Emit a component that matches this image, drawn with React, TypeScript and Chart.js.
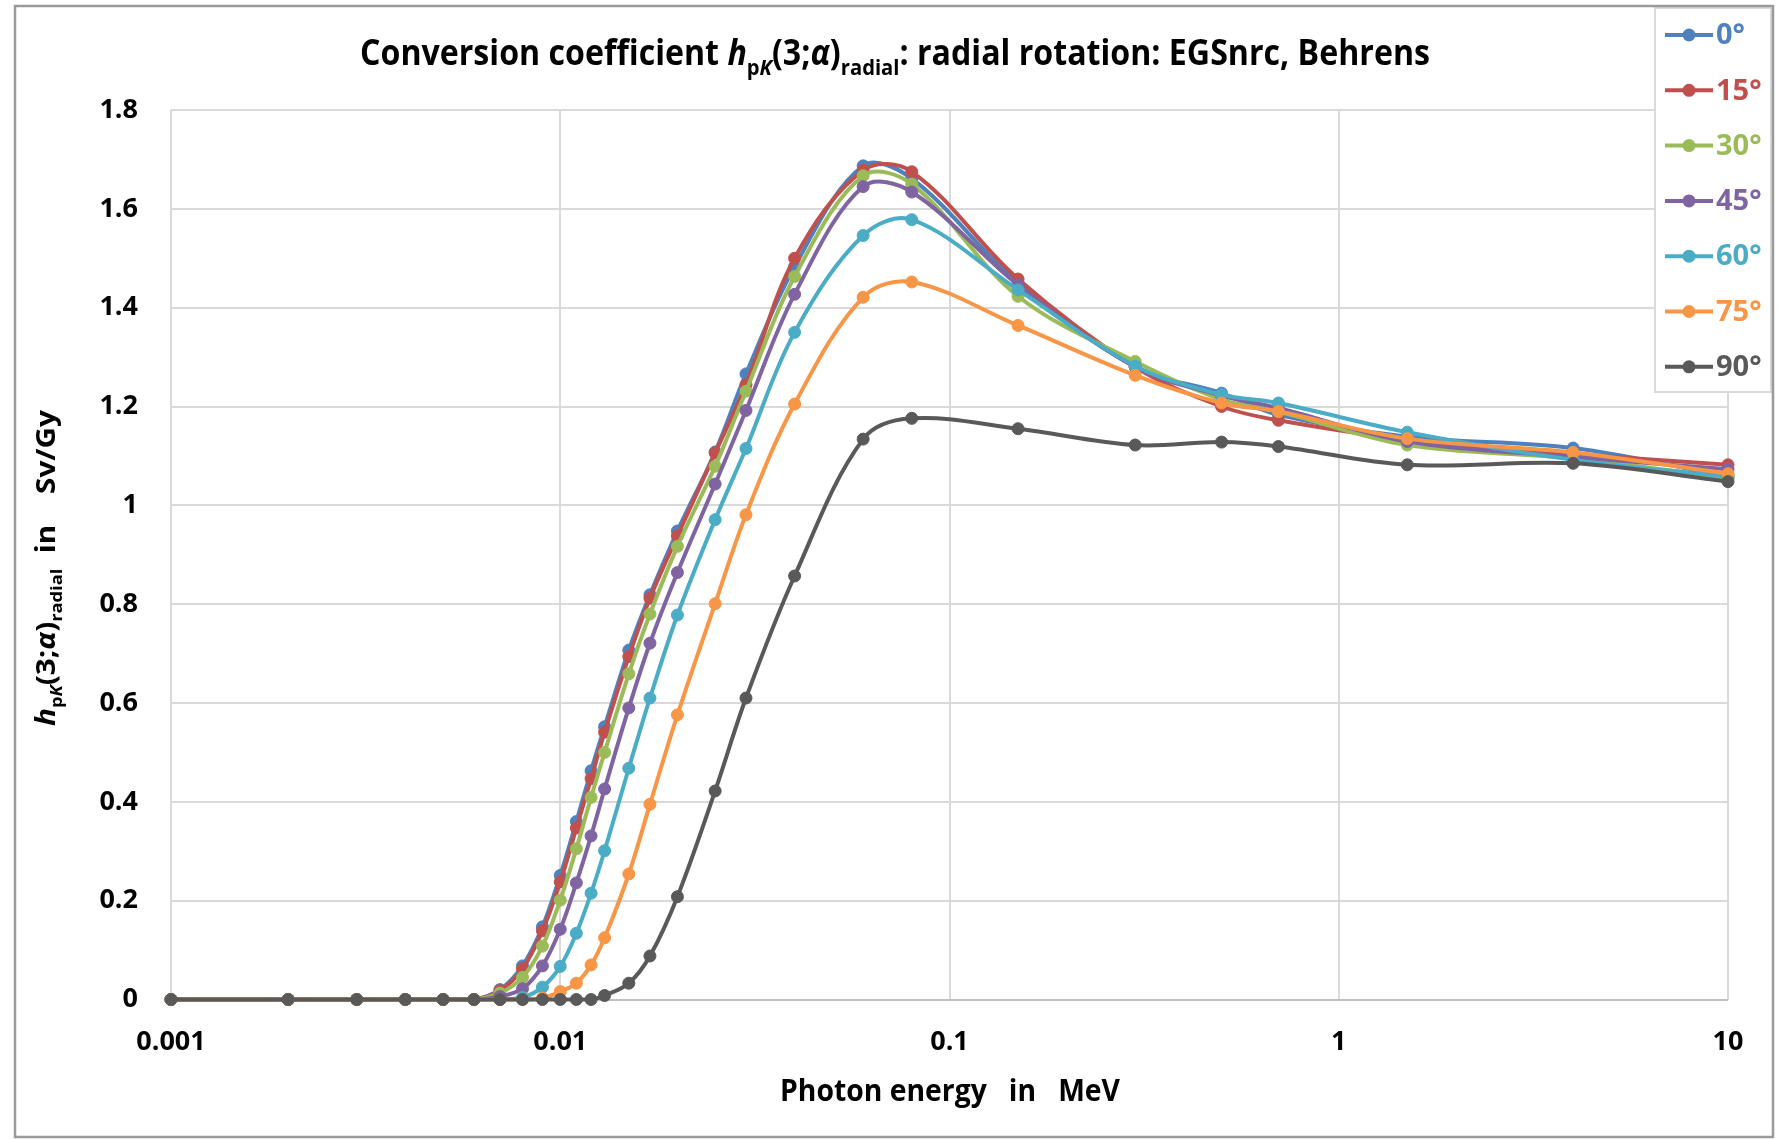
import React, { useEffect, useRef } from "react";
import { Chart, registerables } from "chart.js";

Chart.register(...registerables);

// Photon energies in MeV
const energies = [
  0.001, 0.002, 0.003, 0.004, 0.005, 0.006, 0.007, 0.008, 0.009, 0.01, 0.011, 0.012, 0.013, 0.015,
  0.017, 0.02, 0.025, 0.03, 0.04, 0.06, 0.08, 0.15, 0.3, 0.5, 0.7, 1.5, 4, 10,
];

const seriesLabels = ["0°", "15°", "30°", "45°", "60°", "75°", "90°"];
const seriesColors = ["#4F81BD", "#C0504D", "#9BBB59", "#8064A2", "#4BACC6", "#F79646", "#595959"];

const h0 = [0, 0, 0, 0, 0, 0, 0.02, 0.068, 0.147, 0.251, 0.36, 0.463, 0.552, 0.707, 0.819, 0.948, 1.108, 1.266, 1.483, 1.687, 1.661, 1.45, 1.28, 1.227, 1.183, 1.139, 1.116, 1.058];
const h15 = [0, 0, 0, 0, 0, 0, 0.018, 0.062, 0.139, 0.238, 0.347, 0.447, 0.541, 0.694, 0.812, 0.938, 1.106, 1.244, 1.5, 1.678, 1.675, 1.458, 1.28, 1.2, 1.172, 1.133, 1.104, 1.082];
const h30 = [0, 0, 0, 0, 0, 0, 0.013, 0.045, 0.108, 0.201, 0.305, 0.409, 0.5, 0.659, 0.78, 0.917, 1.079, 1.231, 1.463, 1.667, 1.65, 1.423, 1.291, 1.214, 1.19, 1.122, 1.095, 1.055];
const h45 = [0, 0, 0, 0, 0, 0, 0.006, 0.022, 0.068, 0.142, 0.236, 0.331, 0.426, 0.59, 0.721, 0.864, 1.043, 1.192, 1.427, 1.645, 1.634, 1.446, 1.28, 1.222, 1.197, 1.129, 1.098, 1.073];
const h60 = [0, 0, 0, 0, 0, 0, 0, 0.004, 0.025, 0.067, 0.134, 0.215, 0.301, 0.468, 0.61, 0.778, 0.971, 1.115, 1.35, 1.546, 1.578, 1.436, 1.282, 1.224, 1.207, 1.148, 1.092, 1.058];
const h75 = [0, 0, 0, 0, 0, 0, 0, 0, 0.003, 0.016, 0.033, 0.07, 0.125, 0.254, 0.395, 0.576, 0.801, 0.981, 1.205, 1.421, 1.452, 1.364, 1.263, 1.207, 1.19, 1.135, 1.107, 1.064];
const h90 = [0, 0, 0, 0, 0, 0, 0, 0, 0, 0, 0, 0, 0.008, 0.033, 0.088, 0.208, 0.422, 0.61, 0.857, 1.134, 1.176, 1.155, 1.122, 1.128, 1.119, 1.082, 1.085, 1.048];

const seriesValues = [h0, h15, h30, h45, h60, h75, h90];

const xTickValues = [0.001, 0.01, 0.1, 1, 10];
const xTickLabels = ["0.001", "0.01", "0.1", "1", "10"];

const titleText = "Conversion coefficient ";
const titleTail = ": radial rotation: EGSnrc, Behrens";
const yTitleTail = "  in    Sv/Gy";
const xTitleText = "Photon energy   in   MeV";

type Run = { t: string; it?: boolean; sub?: boolean };

const FONT = "'Open Sans'";

function runFont(r: Run, size: number) {
  return `${r.it ? "italic " : ""}bold ${r.sub ? Math.round(size * 0.62) : size}px ${FONT}`;
}

function drawRuns(ctx: CanvasRenderingContext2D, runs: Run[], size: number, cx: number, baseline: number, targetWidth: number, color: string) {
  ctx.save();
  let total = 0;
  const widths = runs.map((r) => {
    ctx.font = runFont(r, size);
    const w = ctx.measureText(r.t).width;
    total += w;
    return w;
  });
  const sx = targetWidth / total;
  ctx.translate(cx - targetWidth / 2, baseline);
  ctx.scale(sx, 1);
  ctx.fillStyle = color;
  ctx.textBaseline = "alphabetic";
  ctx.textAlign = "left";
  let x = 0;
  runs.forEach((r, i) => {
    ctx.font = runFont(r, size);
    ctx.fillText(r.t, x, r.sub ? size * 0.28 : 0);
    x += widths[i];
  });
  ctx.restore();
}

const decorPlugin = {
  id: "decor",
  beforeDraw(chart: any) {
    const ctx = chart.ctx as CanvasRenderingContext2D;
    ctx.save();
    ctx.fillStyle = "#ffffff";
    ctx.fillRect(0, 0, chart.width, chart.height);
    ctx.restore();
  },
  afterDraw(chart: any) {
    const ctx = chart.ctx as CanvasRenderingContext2D;
    // Title
    const titleRuns: Run[] = [
      { t: titleText },
      { t: "h", it: true },
      { t: "p", sub: true },
      { t: "K", sub: true, it: true },
      { t: "(3;" },
      { t: "α", it: true },
      { t: ")" },
      { t: "radial", sub: true },
      { t: titleTail },
    ];
    drawRuns(ctx, titleRuns, 35, 895, 65, 1070, "#000000");

    // Y axis title
    const yRuns: Run[] = [
      { t: "h", it: true },
      { t: "p", sub: true },
      { t: "K", sub: true, it: true },
      { t: "(3;" },
      { t: "α", it: true },
      { t: ")" },
      { t: "radial", sub: true },
      { t: yTitleTail },
    ];
    ctx.save();
    ctx.translate(55, 568);
    ctx.rotate(-Math.PI / 2);
    drawRuns(ctx, yRuns, 26, 0, 0, 316, "#000000");
    ctx.restore();

    // X axis title
    drawRuns(ctx, [{ t: xTitleText }], 31, 950, 1101, 340, "#000000");

    // Legend
    ctx.save();
    ctx.fillStyle = "#ffffff";
    ctx.fillRect(1655, 8, 116, 384);
    ctx.strokeStyle = "#d9d9d9";
    ctx.lineWidth = 2;
    ctx.strokeRect(1655, 8, 116, 384);
    seriesLabels.forEach((lab, i) => {
      const y = 35 + i * 55.3;
      const c = seriesColors[i];
      ctx.strokeStyle = c;
      ctx.lineWidth = 4;
      ctx.beginPath();
      ctx.moveTo(1665, y);
      ctx.lineTo(1713, y);
      ctx.stroke();
      ctx.fillStyle = c;
      ctx.beginPath();
      ctx.arc(1689, y, 6.5, 0, Math.PI * 2);
      ctx.fill();
      ctx.font = `bold 29px ${FONT}`;
      ctx.textAlign = "left";
      ctx.textBaseline = "middle";
      ctx.fillText(lab, 1716, y + 1);
    });
    ctx.restore();

    // Outer border
    ctx.save();
    ctx.strokeStyle = "#9a9a9a";
    ctx.lineWidth = 2.5;
    ctx.strokeRect(15, 6, 1758, 1131);
    ctx.restore();
  },
};

export default function App() {
  const canvasRef = useRef<HTMLCanvasElement | null>(null);

  useEffect(() => {
    if (!canvasRef.current) return;
    const datasets = seriesValues.map((vals, i) => ({
      label: seriesLabels[i],
      data: energies.map((e, j) => ({ x: e, y: vals[j] })),
      borderColor: seriesColors[i],
      backgroundColor: seriesColors[i],
      pointBackgroundColor: seriesColors[i],
      pointBorderColor: seriesColors[i],
      pointRadius: 6,
      pointBorderWidth: 1,
      borderWidth: 4,
      tension: 0.35,
      fill: false,
      clip: false as any,
      order: seriesLabels.length - i,
    }));

    const chart = new Chart(canvasRef.current, {
      type: "line",
      data: { datasets },
      plugins: [decorPlugin],
      options: {
        animation: false,
        responsive: false,
        devicePixelRatio: 1,
        layout: { padding: { left: 0, right: 57, top: 110, bottom: 0 } },
        plugins: {
          legend: { display: false },
          tooltip: { enabled: false },
          title: { display: false },
        },
        scales: {
          x: {
            type: "logarithmic",
            min: 0.001,
            max: 10,
            afterBuildTicks: (s: any) => {
              s.ticks = xTickValues.map((v) => ({ value: v }));
            },
            afterFit: (s: any) => {
              s.height = 139.5;
            },
            ticks: {
              autoSkip: false,
              maxRotation: 0,
              padding: 27,
              color: "#000000",
              font: { family: FONT, size: 27, weight: "bold" },
              callback: (v: any) => {
                const idx = xTickValues.findIndex((t) => Math.abs(t - Number(v)) < 1e-12);
                return idx >= 0 ? xTickLabels[idx] : "";
              },
            },
            grid: { color: "#d9d9d9", lineWidth: 2, drawTicks: false },
            border: { display: false },
          },
          y: {
            type: "linear",
            min: 0,
            max: 1.8,
            afterFit: (s: any) => {
              s.width = 171;
            },
            ticks: {
              stepSize: 0.2,
              padding: 33,
              color: "#000000",
              font: { family: FONT, size: 27, weight: "bold" },
              callback: (v: any) => String(Math.round(Number(v) * 10) / 10),
            },
            grid: {
              color: (c: any) => (c.tick && c.tick.value === 0 ? "#bfbfbf" : "#d9d9d9"),
              lineWidth: 2,
              drawTicks: false,
            },
            border: { display: false },
          },
        },
      } as any,
    });
    return () => chart.destroy();
  }, []);

  return (
    <div style={{ position: "fixed", left: 0, top: 0, width: 1785, height: 1139, background: "#ffffff" }}>
      <canvas ref={canvasRef} width={1785} height={1139} style={{ width: 1785, height: 1139, display: "block" }} />
    </div>
  );
}
